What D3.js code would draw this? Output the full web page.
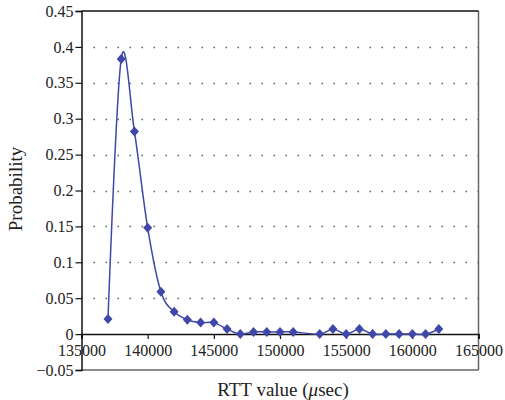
<!DOCTYPE html>
<html>
<head>
<meta charset="utf-8">
<script src="https://cdnjs.cloudflare.com/ajax/libs/d3/7.8.5/d3.min.js"></script>
<style>
  body { margin: 0; background: #fff; }
  svg text { font-family: "Liberation Serif", "DejaVu Serif", serif; fill: #222; }
</style>
</head>
<body>
<div id="chart"></div>
<script>
// RTT values (usec) and measured probability
var rtt = [137000, 138000, 139000, 140000, 141000, 142000, 143000, 144000, 145000,
           146000, 147000, 148000, 149000, 150000, 151000, 153000, 154000, 155000,
           156000, 157000, 158000, 159000, 160000, 161000, 162000];
var prob = [0.021, 0.383, 0.282, 0.148, 0.059, 0.031, 0.020, 0.016, 0.016,
            0.007, 0.0, 0.003, 0.003, 0.003, 0.003, 0.0, 0.007, 0.0,
            0.007, 0.0, 0.0, 0.0, 0.0, 0.0, 0.007];
var xTicks = [135000, 140000, 145000, 150000, 155000, 160000, 165000];
var yTicks = [-0.05, 0, 0.05, 0.1, 0.15, 0.2, 0.25, 0.3, 0.35, 0.4, 0.45];

var totalWidth = 505,
    totalHeight = 400,
    margin = {top: 11, right: 26.5, bottom: 30, left: 81.5};
var width = totalWidth - margin.left - margin.right,
    height = totalHeight - margin.top - margin.bottom;
var lineColor = "#3f48a8";

var data = rtt.map(function(d, i) {
    return [d, prob[i]];
});

var xScale = d3.scaleLinear().domain([135000, 165000]).range([0, width]);
var yScale = d3.scaleLinear().domain([-0.05, 0.45]).range([height, 0]);

var svg = d3.select("#chart").append("svg")
    .attr("width", totalWidth)
    .attr("height", totalHeight);

var g = svg.append("g")
    .attr("transform", "translate(" + margin.left + "," + margin.top + ")");

// dotted horizontal grid
g.append("g").selectAll("line")
    .data(yTicks.filter(function(d) { return d > 0 && d < 0.45; }))
    .enter().append("line")
    .attr("x1", 0).attr("x2", width)
    .attr("y1", function(d) { return Math.round(yScale(d)) + 0.5; })
    .attr("y2", function(d) { return Math.round(yScale(d)) + 0.5; })
    .attr("stroke", "#555")
    .attr("stroke-width", 1.4)
    .attr("stroke-dasharray", "1.4,10.6");

// frame: right and bottom grey, top black
g.append("line").attr("x1", width).attr("x2", width).attr("y1", 0).attr("y2", height)
    .attr("stroke", "#666").attr("stroke-width", 1.5);
g.append("line").attr("x1", 0).attr("x2", width).attr("y1", height).attr("y2", height)
    .attr("stroke", "#666").attr("stroke-width", 1.5);
g.append("line").attr("x1", 0).attr("x2", width).attr("y1", 0).attr("y2", 0)
    .attr("stroke", "#111").attr("stroke-width", 1.5);

// y axis
var yAxis = d3.axisLeft(yScale)
    .tickValues(yTicks)
    .tickSize(6)
    .tickPadding(2)
    .tickFormat(function(d) {
        return d < 0 ? "\u2212" + d3.format("")(-d) : d3.format("")(d);
    });
var yG = g.append("g").call(yAxis);
yG.select(".domain").attr("stroke", "#111").attr("stroke-width", 1.5);
yG.selectAll(".tick line").attr("stroke", "#111").attr("stroke-width", 1.2);
yG.selectAll(".tick text").style("font-size", "16px").attr("fill", "#222");

// x axis at y = 0
var xAxis = d3.axisBottom(xScale)
    .tickValues(xTicks)
    .tickSizeOuter(0)
    .tickSize(5)
    .tickPadding(6)
    .tickFormat(d3.format("d"));
var xG = g.append("g")
    .attr("transform", "translate(0," + yScale(0) + ")")
    .call(xAxis);
xG.select(".domain").attr("stroke", "#111").attr("stroke-width", 1.5);
xG.selectAll(".tick line").attr("stroke", "#111").attr("stroke-width", 1.2);
xG.selectAll(".tick text").style("font-size", "16px").attr("fill", "#222");

// smoothed series line
var line = d3.line()
    .x(function(d) { return xScale(d[0]); })
    .y(function(d) { return yScale(d[1]); })
    .curve(d3.curveCardinal.tension(0));

g.append("path")
    .datum(data)
    .attr("fill", "none")
    .attr("stroke", lineColor)
    .attr("stroke-width", 1.5)
    .attr("d", line);

// diamond markers
g.append("g").selectAll("path")
    .data(data)
    .enter().append("path")
    .attr("transform", function(d) {
        return "translate(" + xScale(d[0]) + "," + yScale(d[1]) + ")";
    })
    .attr("d", "M0,-5L4.5,0L0,5L-4.5,0Z")
    .attr("fill", lineColor);

// axis titles
var xt = svg.append("text")
    .attr("x", 283)
    .attr("y", 396)
    .attr("text-anchor", "middle")
    .style("font-size", "19px");
xt.append("tspan").text("RTT value (");
xt.append("tspan").style("font-style", "italic").text("\u03bc");
xt.append("tspan").text("sec)");

svg.append("text")
    .attr("transform", "translate(22,189) rotate(-90)")
    .attr("text-anchor", "middle")
    .style("font-size", "19px")
    .text("Probability");
</script>
</body>
</html>
